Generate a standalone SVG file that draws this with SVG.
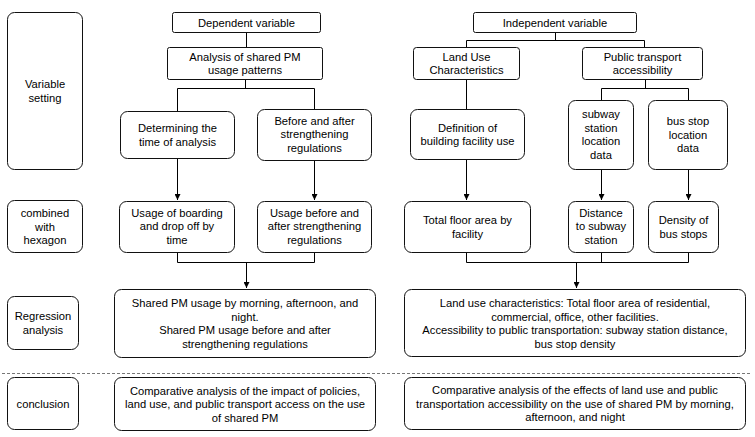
<svg xmlns="http://www.w3.org/2000/svg" width="755" height="437" viewBox="0 0 755 437">
<defs>
<marker id="ah" viewBox="0 0 8 8" refX="8" refY="4" markerWidth="6" markerHeight="6" markerUnits="userSpaceOnUse" orient="auto">
<path d="M0,0 L8,4 L0,8 z" fill="#000"/>
</marker>
<style>
.b{fill:#fff;stroke:#111;stroke-width:1}
.t{font-family:"Liberation Sans",Arial,sans-serif;font-size:11.2px;fill:#000;text-anchor:middle}
.c{fill:none;stroke:#000;stroke-width:1}
.a{fill:none;stroke:#000;stroke-width:1;marker-end:url(#ah)}
.d{fill:none;stroke:#777;stroke-width:1;stroke-dasharray:3 2}
</style>
</defs>
<rect width="755" height="437" fill="#fff"/>
<g id="connectors">
<path class="c" d="M246.5,32.5V47"/>
<path class="c" d="M245.5,80V88.5M177.5,88.5H314.5M177.5,88.5V111M314.5,88.5V109"/>
<path class="a" d="M177.5,159V200"/>
<path class="a" d="M314.5,161V200"/>
<path class="c" d="M177.5,253V262.5H314.5V253"/>
<path class="a" d="M246.5,262.5V288"/>
<path class="c" d="M555.5,32.5V40.5M466.5,40.5H644.5M466.5,40.5V47M644.5,40.5V47"/>
<path class="c" d="M466.5,80V109"/>
<path class="c" d="M645.5,80V88.5M601.5,88.5H688.5M601.5,88.5V100M688.5,88.5V100"/>
<path class="a" d="M466.5,160V200"/>
<path class="a" d="M601.5,170V200"/>
<path class="a" d="M688.5,170V200"/>
<path class="c" d="M466.5,253V262.5H688.5V253M601.5,253V262.5"/>
<path class="a" d="M576.5,262.5V288"/>
<path class="d" d="M2,373.5H752"/>
</g>
<g id="n-variable-setting">
<rect class="b" x="7.5" y="12.5" width="75" height="157" rx="7"/>
<text class="t" x="45" y="88">Variable</text>
<text class="t" x="45" y="101.5">setting</text>
</g>
<g id="n-combined">
<rect class="b" x="7.5" y="200.5" width="75" height="52" rx="7"/>
<text class="t" x="45" y="217">combined</text>
<text class="t" x="45" y="230.5">with</text>
<text class="t" x="45" y="244">hexagon</text>
</g>
<g id="n-regression">
<rect class="b" x="7.5" y="296.5" width="71" height="53" rx="7"/>
<text class="t" x="43" y="320">Regression</text>
<text class="t" x="43" y="333.5">analysis</text>
</g>
<g id="n-conclusion">
<rect class="b" x="7.5" y="377.5" width="71" height="52" rx="7"/>
<text class="t" x="43" y="407.5">conclusion</text>
</g>
<g id="n-dependent">
<rect class="b" x="172.5" y="12.5" width="148" height="20" rx="2"/>
<text class="t" x="246.5" y="26.5">Dependent variable</text>
</g>
<g id="n-analysis">
<rect class="b" x="167.5" y="47.5" width="155" height="32" rx="2"/>
<text class="t" x="245" y="60.5">Analysis of shared PM</text>
<text class="t" x="245" y="74">usage patterns</text>
</g>
<g id="n-determining">
<rect class="b" x="120.5" y="111.5" width="114" height="47" rx="7"/>
<text class="t" x="177.5" y="132">Determining the</text>
<text class="t" x="177.5" y="145.5">time of analysis</text>
</g>
<g id="n-before-after">
<rect class="b" x="257.5" y="109.5" width="114" height="51" rx="7"/>
<text class="t" x="314.5" y="124.5">Before and after</text>
<text class="t" x="314.5" y="138">strengthening</text>
<text class="t" x="314.5" y="151.5">regulations</text>
</g>
<g id="n-usage-time">
<rect class="b" x="119.5" y="201.5" width="115" height="51" rx="7"/>
<text class="t" x="177" y="216.5">Usage of boarding</text>
<text class="t" x="177" y="230">and drop off by</text>
<text class="t" x="177" y="243.5">time</text>
</g>
<g id="n-usage-reg">
<rect class="b" x="257.5" y="201.5" width="114" height="51" rx="7"/>
<text class="t" x="314.5" y="216.5">Usage before and</text>
<text class="t" x="314.5" y="230">after strengthening</text>
<text class="t" x="314.5" y="243.5">regulations</text>
</g>
<g id="n-shared-usage">
<rect class="b" x="114.5" y="289.5" width="261" height="68" rx="7"/>
<text class="t" x="245" y="307">Shared PM usage by morning, afternoon, and</text>
<text class="t" x="245" y="320.5">night.</text>
<text class="t" x="245" y="334">Shared PM usage before and after</text>
<text class="t" x="245" y="347.5">strengthening regulations</text>
</g>
<g id="n-conclusion-left">
<rect class="b" x="114.5" y="377.5" width="261" height="53" rx="7"/>
<text class="t" x="245" y="394.5">Comparative analysis of the impact of policies,</text>
<text class="t" x="245" y="408">land use, and public transport access on the use</text>
<text class="t" x="245" y="421.5">of shared PM</text>
</g>
<g id="n-independent">
<rect class="b" x="473.5" y="12.5" width="163" height="20" rx="2"/>
<text class="t" x="555" y="26.5">Independent variable</text>
</g>
<g id="n-land-use">
<rect class="b" x="413.5" y="47.5" width="106" height="32" rx="3"/>
<text class="t" x="466.5" y="60.5">Land Use</text>
<text class="t" x="466.5" y="74">Characteristics</text>
</g>
<g id="n-public">
<rect class="b" x="582.5" y="47.5" width="120" height="32" rx="3"/>
<text class="t" x="642.5" y="60.5">Public transport</text>
<text class="t" x="642.5" y="74">accessibility</text>
</g>
<g id="n-definition">
<rect class="b" x="410.5" y="109.5" width="114" height="50" rx="7"/>
<text class="t" x="467.5" y="131.5">Definition of</text>
<text class="t" x="467.5" y="145">building facility use</text>
</g>
<g id="n-subway-data">
<rect class="b" x="568.5" y="100.5" width="65" height="69" rx="7"/>
<text class="t" x="601" y="118">subway</text>
<text class="t" x="601" y="131.5">station</text>
<text class="t" x="601" y="145">location</text>
<text class="t" x="601" y="158.5">data</text>
</g>
<g id="n-bus-data">
<rect class="b" x="648.5" y="100.5" width="79" height="69" rx="7"/>
<text class="t" x="688" y="125">bus stop</text>
<text class="t" x="688" y="138.5">location</text>
<text class="t" x="688" y="152">data</text>
</g>
<g id="n-floor-area">
<rect class="b" x="404.5" y="201.5" width="126" height="51" rx="7"/>
<text class="t" x="467.5" y="224">Total floor area by</text>
<text class="t" x="467.5" y="237.5">facility</text>
</g>
<g id="n-distance">
<rect class="b" x="568.5" y="201.5" width="65" height="51" rx="7"/>
<text class="t" x="601" y="216.5">Distance</text>
<text class="t" x="601" y="230">to subway</text>
<text class="t" x="601" y="243.5">station</text>
</g>
<g id="n-density">
<rect class="b" x="648.5" y="201.5" width="70" height="51" rx="7"/>
<text class="t" x="683.5" y="224">Density of</text>
<text class="t" x="683.5" y="237.5">bus stops</text>
</g>
<g id="n-landuse-access">
<rect class="b" x="404.5" y="289.5" width="341" height="67" rx="7"/>
<text class="t" x="575" y="307">Land use characteristics: Total floor area of residential,</text>
<text class="t" x="575" y="320.5">commercial, office, other facilities.</text>
<text class="t" x="575" y="334">Accessibility to public transportation: subway station distance,</text>
<text class="t" x="575" y="347.5">bus stop density</text>
</g>
<g id="n-conclusion-right">
<rect class="b" x="404.5" y="377.5" width="341" height="52" rx="7"/>
<text class="t" x="575" y="394">Comparative analysis of the effects of land use and public</text>
<text class="t" x="575" y="407.5">transportation accessibility on the use of shared PM by morning,</text>
<text class="t" x="575" y="421">afternoon, and night</text>
</g>
</svg>
